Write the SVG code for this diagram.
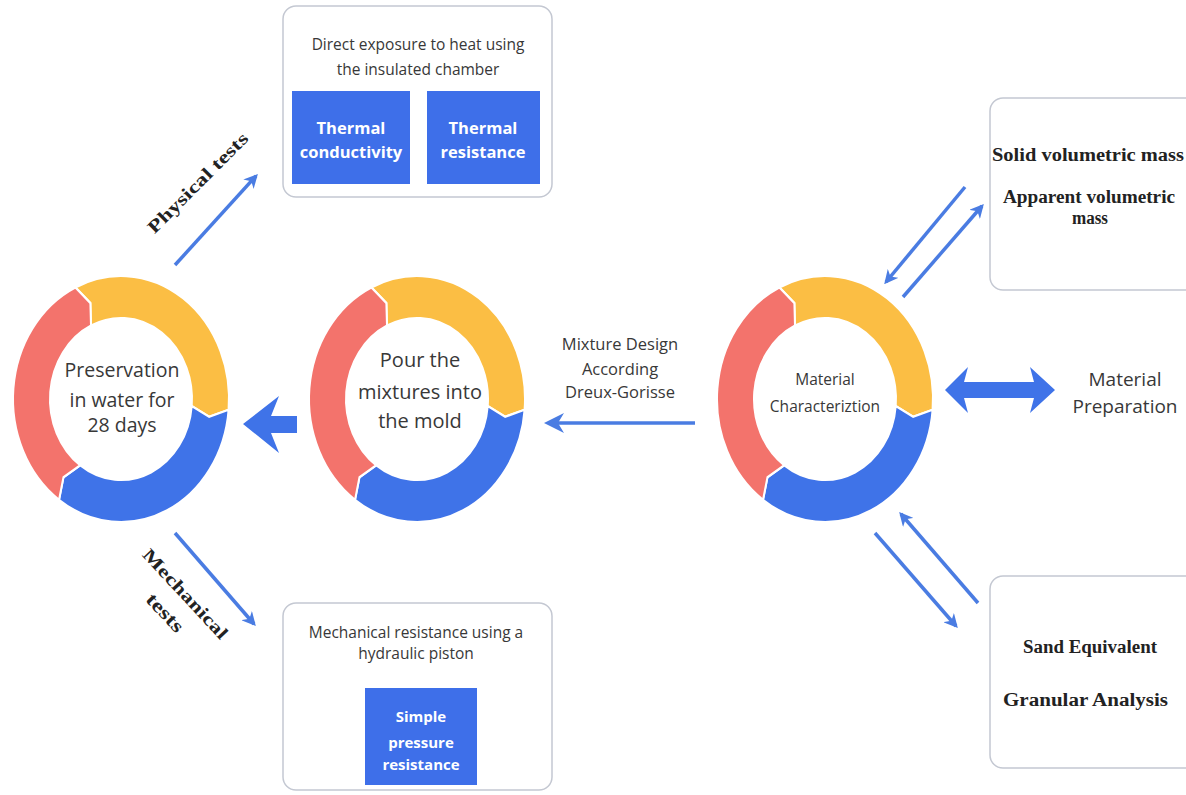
<svg xmlns="http://www.w3.org/2000/svg" xmlns:xlink="http://www.w3.org/1999/xlink" width="1186" height="795" viewBox="0 0 1186 795">
<style>
.sans{font-family:"Open Sans",Lato,"Liberation Sans",sans-serif;fill:#383838;text-anchor:middle}
.wb{font-family:"Open Sans",Lato,"Liberation Sans",sans-serif;fill:#ffffff;font-weight:bold;text-anchor:middle}
.ser{font-family:"Liberation Serif","DejaVu Serif",serif;font-weight:bold;fill:#222}
.box{fill:#ffffff;stroke:#c4c8d2;stroke-width:1.5}
.bbox{fill:#3e6fe9}
.ln{stroke:#4a7ce2;stroke-width:3.5;fill:none}
.red{fill:#f3736c}.yel{fill:#fbbe44}.blu{fill:#3f73e8}
.seg{stroke:#ffffff;stroke-width:2;stroke-linejoin:miter}
</style>
<defs>
<marker id="ah" viewBox="0 0 10 10" refX="8" refY="5" markerWidth="14" markerHeight="14" markerUnits="userSpaceOnUse" orient="auto">
<path d="M0,0 L10,5 L0,10 L3,5 Z" fill="#4a7ce2"/>
</marker>
<marker id="ahb" viewBox="0 0 10 10" refX="8" refY="5" markerWidth="20" markerHeight="20" markerUnits="userSpaceOnUse" orient="auto">
<path d="M0,0 L10,5 L0,10 L3,5 Z" fill="#4a7ce2"/>
</marker>
<g id="ring">
<path class="seg yel" d="M-45.64,-97.88 A108,108 0 0 1 107.59,9.41 L88.14,15.54 L70.73,6.19 A71,71 0 0 0 -30.00,-64.35 L-30.61,-84.10 Z"/>
<path class="seg blu" d="M107.59,9.41 A108,108 0 0 1 -61.95,88.47 L-57.53,68.56 L-40.73,58.16 A71,71 0 0 0 70.73,6.19 L88.14,15.54 Z"/>
<path class="seg red" d="M-61.95,88.47 A108,108 0 0 1 -45.64,-97.88 L-30.61,-84.10 L-30.00,-64.35 A71,71 0 0 0 -40.73,58.16 L-57.53,68.56 Z"/>
</g>
</defs>
<rect width="1186" height="795" fill="#ffffff"/>

<g id="ring-preservation">
<use xlink:href="#ring" href="#ring" transform="translate(121,399) scale(1,1.14)"/>
<text class="sans" font-size="19.5" x="122" y="377">Preservation</text>
<text class="sans" font-size="19.5" x="122" y="407">in water for</text>
<text class="sans" font-size="19.5" x="122" y="432">28 days</text>
</g>

<g id="ring-pour">
<use xlink:href="#ring" href="#ring" transform="translate(417,399) scale(1,1.14)"/>
<text class="sans" font-size="20" x="420" y="367">Pour the</text>
<text class="sans" font-size="20" x="420" y="399">mixtures into</text>
<text class="sans" font-size="20" x="420" y="428">the mold</text>
</g>

<g id="ring-characterization">
<use xlink:href="#ring" href="#ring" transform="translate(825,399) scale(1,1.14)"/>
<text class="sans" font-size="15.5" x="825" y="385">Material</text>
<text class="sans" font-size="15.5" x="825" y="412">Characteriztion</text>
</g>

<g id="box-thermal">
<rect class="box" x="283" y="6" width="269" height="191" rx="13"/>
<text class="sans" font-size="15.5" x="418" y="50">Direct exposure to heat using</text>
<text class="sans" font-size="15.5" x="418" y="75">the insulated chamber</text>
<rect class="bbox" x="292" y="91" width="118" height="93"/>
<text class="wb" font-size="16.5" x="351" y="134">Thermal</text>
<text class="wb" font-size="16.5" x="351" y="158">conductivity</text>
<rect class="bbox" x="427" y="91" width="113" height="93"/>
<text class="wb" font-size="16.5" x="483" y="134">Thermal</text>
<text class="wb" font-size="16.5" x="483" y="158">resistance</text>
</g>

<g id="box-mechanical">
<rect class="box" x="283" y="603" width="269" height="187" rx="13"/>
<text class="sans" font-size="15.5" x="416" y="638">Mechanical resistance using a</text>
<text class="sans" font-size="15.5" x="416" y="659">hydraulic piston</text>
<rect class="bbox" x="365" y="688" width="112" height="97"/>
<text class="wb" font-size="15" x="421" y="722">Simple</text>
<text class="wb" font-size="15" x="421" y="748">pressure</text>
<text class="wb" font-size="15" x="421" y="770">resistance</text>
</g>

<g id="box-volumetric">
<rect class="box" x="990" y="98" width="215" height="192" rx="13"/>
<text class="ser" font-size="18.5" x="992" y="161" textLength="192" lengthAdjust="spacingAndGlyphs">Solid volumetric mass</text>
<text class="ser" font-size="18.5" x="1003" y="203" textLength="172" lengthAdjust="spacingAndGlyphs">Apparent volumetric</text>
<text class="ser" font-size="18.5" x="1072" y="224" textLength="36" lengthAdjust="spacingAndGlyphs">mass</text>
</g>

<g id="box-granular">
<rect class="box" x="990" y="576" width="215" height="192" rx="13"/>
<text class="ser" font-size="18.5" x="1023" y="653" textLength="134" lengthAdjust="spacingAndGlyphs">Sand Equivalent</text>
<text class="ser" font-size="18.5" x="1003" y="706" textLength="165" lengthAdjust="spacingAndGlyphs">Granular Analysis</text>
</g>

<g id="label-preparation">
<text class="sans" font-size="19" x="1125" y="386">Material</text>
<text class="sans" font-size="19" x="1125" y="413">Preparation</text>
</g>

<g id="connectors">
<polygon points="243,424 279,396 271,416 297,416 297,433 271,433 279,453" fill="#3f73e8"/>
<line class="ln" x1="695" y1="423" x2="548" y2="423" stroke-width="5.5" marker-end="url(#ahb)"/>
<text class="sans" font-size="16.5" x="620" y="350">Mixture Design</text>
<text class="sans" font-size="16.5" x="620" y="375">According</text>
<text class="sans" font-size="16.5" x="620" y="398">Dreux-Gorisse</text>
<polygon points="945,390 968,367 964,382 1034,382 1030,367 1055,390 1030,413 1034,398 964,398 968,413" fill="#3f73e8"/>
<line class="ln" x1="965" y1="187" x2="886" y2="282" marker-end="url(#ah)"/>
<line class="ln" x1="903" y1="297" x2="982" y2="206" marker-end="url(#ah)"/>
<line class="ln" x1="978" y1="603" x2="901" y2="514" marker-end="url(#ah)"/>
<line class="ln" x1="875" y1="533" x2="956" y2="626" marker-end="url(#ah)"/>
<line class="ln" x1="175" y1="265" x2="256" y2="176" marker-end="url(#ah)"/>
<line class="ln" x1="175" y1="533" x2="254" y2="624" marker-end="url(#ah)"/>
<text class="ser" font-size="18" text-anchor="middle" transform="translate(202,187) rotate(-45)" textLength="134" lengthAdjust="spacingAndGlyphs">Physical tests</text>
<g transform="translate(181,598) rotate(47)">
<text class="ser" font-size="18" text-anchor="middle" x="0" y="0" textLength="116" lengthAdjust="spacingAndGlyphs">Mechanical</text>
<text class="ser" font-size="19" text-anchor="middle" x="0" y="28" textLength="46" lengthAdjust="spacingAndGlyphs">tests</text>
</g>
</g>
</svg>
